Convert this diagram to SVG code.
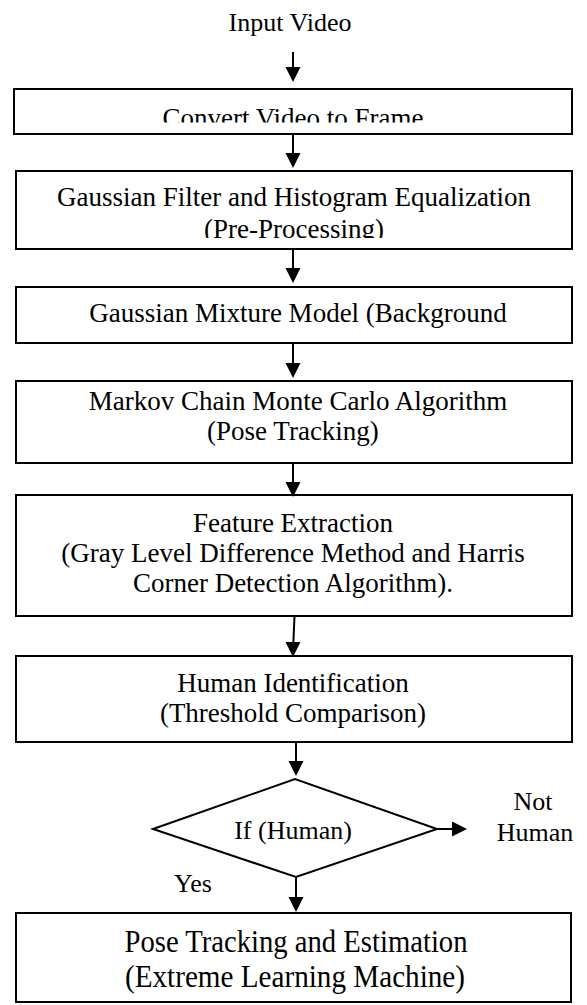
<svg xmlns="http://www.w3.org/2000/svg" width="587" height="1005" viewBox="0 0 587 1005">
  <style>
    .box { fill: #ffffff; stroke: #000000; stroke-width: 2; }
    .t { font-family: "Liberation Serif", "Times New Roman", serif; font-size: 27px; fill: #000000; text-anchor: middle; }
    .s { font-size: 26px; }
    .big { font-size: 32px; }
    .line { stroke: #000000; stroke-width: 2; fill: none; }
    .head { fill: #000000; stroke: none; }
  </style>
  <defs>
    <clipPath id="clip1"><rect x="14" y="88" width="558" height="34.5"/></clipPath>
    <clipPath id="clip2"><rect x="16" y="170" width="556" height="68"/></clipPath>
  </defs>
  <rect width="587" height="1005" fill="#ffffff"/>

  <g id="input">
    <text class="t s" x="290" y="31">Input Video</text>
  </g>

  <g id="convert">
    <rect class="box" x="14" y="89" width="558" height="45"/>
    <text class="t" x="293" y="127" clip-path="url(#clip1)">Convert Video to Frame</text>
  </g>

  <g id="preprocess">
    <rect class="box" x="16" y="171" width="556" height="78"/>
    <g clip-path="url(#clip2)">
      <text class="t" x="294" y="205.5">Gaussian Filter and Histogram Equalization</text>
      <text class="t" x="294" y="238">(Pre-Processing)</text>
    </g>
  </g>

  <g id="gmm">
    <rect class="box" x="16" y="287" width="556" height="56"/>
    <text class="t" x="298" y="322">Gaussian Mixture Model (Background</text>
  </g>

  <g id="mcmc">
    <rect class="box" x="16" y="381" width="556" height="82"/>
    <text class="t" x="298" y="410">Markov Chain Monte Carlo Algorithm</text>
    <text class="t" x="293" y="440">(Pose Tracking)</text>
  </g>

  <g id="feature">
    <rect class="box" x="16" y="495" width="556" height="121"/>
    <text class="t" x="293" y="532">Feature Extraction</text>
    <text class="t" x="293" y="562">(Gray Level Difference Method and Harris</text>
    <text class="t" x="293" y="592">Corner Detection Algorithm).</text>
  </g>

  <g id="identify">
    <rect class="box" x="16" y="656" width="556" height="86"/>
    <text class="t" x="293" y="692">Human Identification</text>
    <text class="t" x="293" y="722">(Threshold Comparison)</text>
  </g>

  <g id="decision">
    <polygon class="box" points="153,829 295,779 437,829 296,877"/>
    <text class="t s" x="293" y="839">If (Human)</text>
  </g>

  <g id="nothuman">
    <text class="t s" x="533" y="810">Not</text>
    <text class="t s" x="535" y="841">Human</text>
  </g>

  <g id="yes">
    <text class="t s" x="193" y="892">Yes</text>
  </g>

  <g id="estimate">
    <rect class="box" x="16" y="913" width="555" height="89"/>
    <text class="t big" x="296" y="952" textLength="343" lengthAdjust="spacingAndGlyphs">Pose Tracking and Estimation</text>
    <text class="t big" x="295" y="987" textLength="340" lengthAdjust="spacingAndGlyphs">(Extreme Learning Machine)</text>
  </g>

  <g id="connectors">
    <line class="line" x1="293" y1="52" x2="293" y2="70"/>
    <polygon class="head" points="285.5,67 300.5,67 293,82"/>

    <line class="line" x1="293" y1="135" x2="293" y2="155"/>
    <polygon class="head" points="285.5,153 300.5,153 293,168"/>

    <line class="line" x1="293" y1="249" x2="293" y2="270"/>
    <polygon class="head" points="285.5,268 300.5,268 293,283"/>

    <line class="line" x1="293" y1="343" x2="293" y2="365"/>
    <polygon class="head" points="285.5,363 300.5,363 293,378"/>

    <line class="line" x1="293" y1="463" x2="293" y2="484"/>
    <polygon class="head" points="285.5,482 300.5,482 293,497"/>

    <line class="line" x1="294.5" y1="616" x2="293.3" y2="644"/>
    <polygon class="head" points="285.5,642 300.5,642 293,657"/>

    <line class="line" x1="296" y1="742" x2="296" y2="763"/>
    <polygon class="head" points="288.5,761 303.5,761 296,776"/>

    <line class="line" x1="296" y1="877" x2="296" y2="899"/>
    <polygon class="head" points="288.5,897 303.5,897 296,912"/>

    <line class="line" x1="437" y1="829" x2="454" y2="829"/>
    <polygon class="head" points="452,821.5 452,836.5 467,829"/>
  </g>
</svg>
